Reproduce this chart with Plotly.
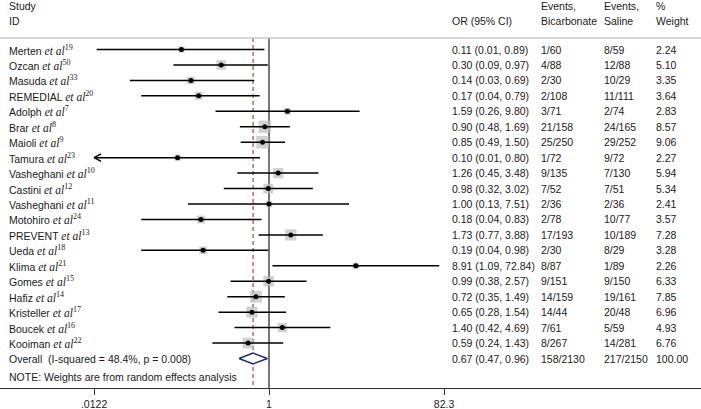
import plotly.graph_objects as go
import math

# ---------------- data ----------------
studies = ["Merten", "Ozcan", "Masuda", "REMEDIAL", "Adolph", "Brar", "Maioli", "Tamura",
           "Vasheghani", "Castini", "Vasheghani", "Motohiro", "PREVENT", "Ueda", "Klima",
           "Gomes", "Hafiz", "Kristeller", "Boucek", "Kooiman"]
refs = ["19", "50", "33", "20", "7", "8", "9", "23", "10", "12", "11", "24", "13", "18", "21",
        "15", "14", "17", "16", "22"]
odds_ratio = [0.11, 0.30, 0.14, 0.17, 1.59, 0.90, 0.85, 0.10, 1.26, 0.98, 1.00, 0.18, 1.73, 0.19,
              8.91, 0.99, 0.72, 0.65, 1.40, 0.59]
ci_low = [0.013, 0.09, 0.03, 0.04, 0.26, 0.48, 0.49, 0.01, 0.45, 0.32, 0.13, 0.04, 0.77, 0.04,
          1.09, 0.38, 0.35, 0.28, 0.42, 0.24]
ci_high = [0.89, 0.97, 0.69, 0.79, 9.80, 1.69, 1.50, 0.80, 3.48, 3.02, 7.51, 0.83, 3.88, 0.98,
           72.84, 2.57, 1.49, 1.54, 4.69, 1.43]
events_bicarb = ["1/60", "4/88", "2/30", "2/108", "3/71", "21/158", "25/250", "1/72", "9/135",
                 "7/52", "2/36", "2/78", "17/193", "2/30", "8/87", "9/151", "14/159", "14/44",
                 "7/61", "8/267"]
events_saline = ["8/59", "12/88", "10/29", "11/111", "2/74", "24/165", "29/252", "9/72", "7/130",
                 "7/51", "2/36", "10/77", "10/189", "8/29", "1/89", "9/150", "19/161", "20/48",
                 "5/59", "14/281"]
weights = [2.24, 5.10, 3.35, 3.64, 2.83, 8.57, 9.06, 2.27, 5.94, 5.34, 2.41, 3.57, 7.28, 3.28,
           2.26, 6.33, 7.85, 6.96, 4.93, 6.76]

overall_or, overall_lo, overall_hi = 0.67, 0.47, 0.96
overall_bicarb, overall_saline, overall_weight = "158/2130", "217/2150", "100.00"
overall_label = "Overall\u00a0 (I-squared = 48.4%, p = 0.008)"
note_text = "NOTE: Weights are from random effects analysis"

tick_vals = [0.0122, 1, 82.3]
tick_text = [".0122", "1", "82.3"]

# ---------------- layout constants ----------------
W, H = 701, 409
ROW0_PX = 49.5
ROW_PX = 15.45
AXIS_PX = 388.0
PX_PER_DEC = 91.4
ONE_PX = 269.0
X_MIN, X_MAX = tick_vals[0], tick_vals[-1]

x_range = [(0 - ONE_PX) / PX_PER_DEC, (W - ONE_PX) / PX_PER_DEC]
y_range = [(AXIS_PX - ROW0_PX) / ROW_PX, -ROW0_PX / ROW_PX]

TXT = "#1a1a1a"
FONT = "Liberation Sans, Arial, sans-serif"
SERIF = "Liberation Serif"
FS = 10.5

n = len(studies)
rows = list(range(n))
overall_row = n
note_row = n + 1.2
header_line_row = (38 - ROW0_PX) / ROW_PX
head1_row = (5.5 - ROW0_PX) / ROW_PX
head2_row = (20.5 - ROW0_PX) / ROW_PX

col_name, col_or, col_bic, col_sal, col_wt = 7, 450, 539, 602, 654

fig = go.Figure()

# vertical reference lines
fig.add_trace(go.Scatter(x=[1, 1], y=[header_line_row, y_range[0]], mode="lines",
                         line=dict(color="#4a4a4a", width=1.5), hoverinfo="skip", showlegend=False))
fig.add_trace(go.Scatter(x=[overall_or, overall_or], y=[header_line_row, y_range[0]], mode="lines",
                         line=dict(color="#a5303c", width=1.1, dash="4px,3px"),
                         hoverinfo="skip", showlegend=False))

# weight boxes
fig.add_trace(go.Scatter(x=odds_ratio, y=rows, mode="markers",
                         marker=dict(symbol="square", color="#bdbdbd",
                                     size=[4.2 * math.sqrt(w) for w in weights], line=dict(width=0)),
                         hoverinfo="skip", showlegend=False))

# CI lines (clipped to the axis range)
cx, cy = [], []
ax_x, ax_y = [], []
f = 10 ** (7 / PX_PER_DEC)
for i in range(n):
    lo = max(ci_low[i], X_MIN)
    hi = min(ci_high[i], X_MAX)
    cx += [lo, hi, None]
    cy += [i, i, None]
    if ci_low[i] < X_MIN:
        ax_x += [X_MIN * f, X_MIN, X_MIN * f, None]
        ax_y += [i - 0.24, i, i + 0.24, None]
    if ci_high[i] > X_MAX:
        ax_x += [X_MAX / f, X_MAX, X_MAX / f, None]
        ax_y += [i - 0.24, i, i + 0.24, None]
fig.add_trace(go.Scatter(x=cx, y=cy, mode="lines", line=dict(color="black", width=1.5),
                         hoverinfo="skip", showlegend=False))
if ax_x:
    fig.add_trace(go.Scatter(x=ax_x, y=ax_y, mode="lines", line=dict(color="black", width=1.5),
                             hoverinfo="skip", showlegend=False))

# point estimates
fig.add_trace(go.Scatter(x=odds_ratio, y=rows, mode="markers",
                         marker=dict(symbol="circle", color="black", size=5),
                         hoverinfo="skip", showlegend=False))

# overall diamond
dh = 0.35
fig.add_trace(go.Scatter(x=[overall_lo, overall_or, overall_hi, overall_or, overall_lo],
                         y=[overall_row, overall_row - dh, overall_row, overall_row + dh, overall_row],
                         mode="lines", fill="toself", fillcolor="white",
                         line=dict(color="#1c2a80", width=1.5), hoverinfo="skip", showlegend=False))

# ---------------- text ----------------
ann = []

def txt(xpx, row, s):
    ann.append(dict(x=xpx / W, xref="paper", y=row, yref="y", text=s, showarrow=False,
                    xanchor="left", yanchor="middle", font=dict(size=FS, color=TXT, family=FONT)))

txt(col_name, head1_row, "Study")
txt(col_name, head2_row, "ID")
txt(col_or, head2_row, "OR (95% CI)")
txt(col_bic, head1_row, "Events,")
txt(col_bic, head2_row, "Bicarbonate")
txt(col_sal, head1_row, "Events,")
txt(col_sal, head2_row, "Saline")
txt(col_wt, head1_row, "%")
txt(col_wt, head2_row, "Weight")

for i in range(n):
    txt(col_name, i, f'{studies[i]} <span style="font-family:{SERIF};font-size:11.5px"><i>et al</i>'
                     f'<sup>{refs[i]}</sup></span>')
    txt(col_or, i, f"{odds_ratio[i]:.2f} ({ci_low[i]:.2f}, {ci_high[i]:.2f})")
    txt(col_bic, i, events_bicarb[i])
    txt(col_sal, i, events_saline[i])
    txt(col_wt, i, f"{weights[i]:.2f}")

txt(col_name, overall_row, overall_label)
txt(col_or, overall_row, f"{overall_or:.2f} ({overall_lo:.2f}, {overall_hi:.2f})")
txt(col_bic, overall_row, overall_bicarb)
txt(col_sal, overall_row, overall_saline)
txt(col_wt, overall_row, overall_weight)
txt(col_name, note_row, note_text)

shapes = [dict(type="line", xref="paper", x0=0, x1=1, yref="y", y0=header_line_row,
               y1=header_line_row, line=dict(color="#c8c8c8", width=1.5))]

fig.update_layout(
    width=W, height=H,
    margin=dict(l=0, r=0, t=0, b=H - AXIS_PX),
    paper_bgcolor="white", plot_bgcolor="white",
    annotations=ann, shapes=shapes,
    font=dict(family=FONT, size=FS, color=TXT),
    xaxis=dict(type="log", range=x_range, tickvals=tick_vals, ticktext=tick_text,
               showgrid=False, zeroline=False, showline=True, linecolor="#333333", linewidth=1,
               ticks="outside", ticklen=6, tickcolor="#333333", tickwidth=1,
               tickfont=dict(size=FS, color=TXT, family=FONT), fixedrange=True),
    yaxis=dict(range=y_range, showgrid=False, zeroline=False, showticklabels=False,
               showline=False, fixedrange=True),
)

fig.write_html("out.html", config={"displayModeBar": False},
               post_script="document.body.style.margin='0px';")
